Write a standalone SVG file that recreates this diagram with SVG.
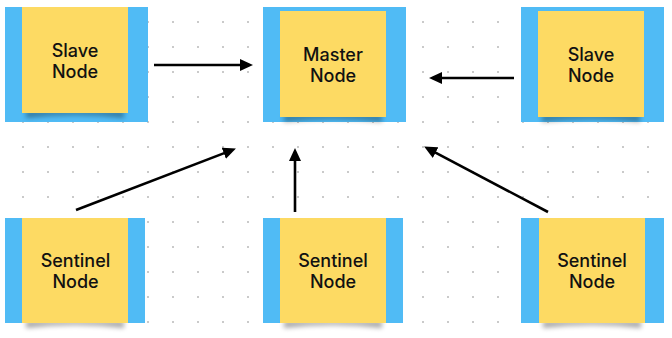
<svg xmlns="http://www.w3.org/2000/svg" width="672" height="338" viewBox="0 0 672 338">
  <style>
    .bg { fill: url(#dots); }
    .side { fill: #50BBF5; }
    .note { fill: #FDDA63; }
    .shadow { fill: #000; opacity: 0.35; filter: url(#blur); }
    .label { font-family: Inter, "Noto Sans", "Liberation Sans", sans-serif; font-size: 18px; font-weight: 500; fill: #111; text-anchor: middle; }
    .conn { stroke: #000; stroke-width: 2.6; fill: none; marker-end: url(#arrow); }
  </style>
  <defs>
    <pattern id="dots" x="0" y="0" width="25" height="25" patternUnits="userSpaceOnUse">
      <rect x="22" y="21" width="2" height="2" fill="#cacaca"/>
    </pattern>
    <filter id="blur" x="-20%" y="-200%" width="140%" height="500%">
      <feGaussianBlur stdDeviation="2.5"/>
    </filter>
    <marker id="arrow" markerUnits="userSpaceOnUse" markerWidth="13" markerHeight="13" refX="6" refY="6.5" orient="auto">
      <path d="M0,0.5 L13,6.5 L0,12.5 Z" fill="#000"/>
    </marker>
  </defs>

  <rect class="bg" x="0" y="0" width="672" height="338"/>

  <g id="slave-left">
    <rect class="side" x="5" y="7" width="143" height="115"/>
    <path class="shadow" d="M26,111 L124,111 L124,118 Q75,112 26,118 Z"/>
    <rect class="note" x="22" y="7" width="106" height="106"/>
    <text class="label" x="75" y="56.5">Slave</text>
    <text class="label" x="75" y="77.5">Node</text>
  </g>

  <g id="master">
    <rect class="side" x="263" y="7" width="143" height="115"/>
    <path class="shadow" d="M284,115 L382,115 L382,122 Q333,116 284,122 Z"/>
    <rect class="note" x="280" y="11" width="106" height="106"/>
    <text class="label" x="333" y="60.5">Master</text>
    <text class="label" x="333" y="81.5">Node</text>
  </g>

  <g id="slave-right">
    <rect class="side" x="521" y="7" width="143" height="115"/>
    <path class="shadow" d="M542,115 L640,115 L640,122 Q591,116 542,122 Z"/>
    <rect class="note" x="538" y="11" width="106" height="106"/>
    <text class="label" x="591" y="60.5">Slave</text>
    <text class="label" x="591" y="81.5">Node</text>
  </g>

  <g id="sentinel-left">
    <rect class="side" x="5" y="218" width="140" height="105"/>
    <path class="shadow" d="M26,321 L124,321 L124,328 Q75,322 26,328 Z"/>
    <rect class="note" x="22" y="218" width="106" height="105"/>
    <text class="label" x="75.5" y="267">Sentinel</text>
    <text class="label" x="75.5" y="288">Node</text>
  </g>

  <g id="sentinel-middle">
    <rect class="side" x="263" y="218" width="140" height="105"/>
    <path class="shadow" d="M284,321 L382,321 L382,328 Q333,322 284,328 Z"/>
    <rect class="note" x="280" y="218" width="106" height="105"/>
    <text class="label" x="333" y="267">Sentinel</text>
    <text class="label" x="333" y="288">Node</text>
  </g>

  <g id="sentinel-right">
    <rect class="side" x="521" y="218" width="143" height="105"/>
    <path class="shadow" d="M543,321 L641,321 L641,328 Q592,322 543,328 Z"/>
    <rect class="note" x="539" y="218" width="106" height="105"/>
    <text class="label" x="592" y="267">Sentinel</text>
    <text class="label" x="592" y="288">Node</text>
  </g>

  <g id="connectors">
    <line class="conn" x1="154" y1="65" x2="246" y2="65"/>
    <line class="conn" x1="514" y1="78" x2="436" y2="78"/>
    <line class="conn" x1="295" y1="212" x2="295" y2="155"/>
    <line class="conn" x1="76" y1="210" x2="229.4" y2="151.1"/>
    <line class="conn" x1="548" y1="212" x2="430.3" y2="149.8"/>
  </g>
</svg>
